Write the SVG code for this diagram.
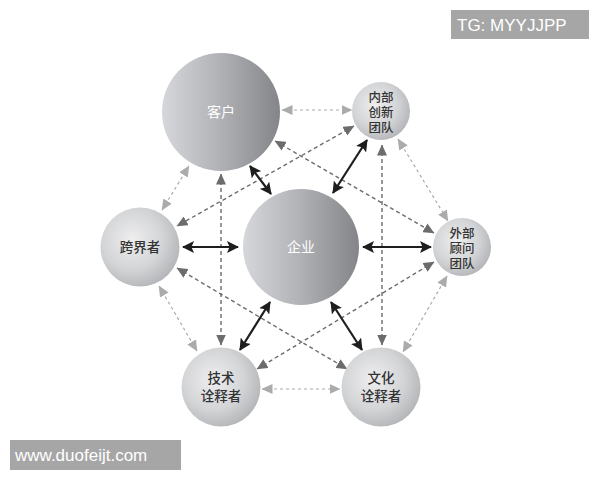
<svg xmlns="http://www.w3.org/2000/svg" width="600" height="480" viewBox="0 0 600 480">
<defs>
<linearGradient id="gBig" x1="0" y1="0" x2="1" y2="0">
<stop offset="0" stop-color="#d6d7da"/>
<stop offset="0.45" stop-color="#b4b5b9"/>
<stop offset="1" stop-color="#838589"/>
</linearGradient>
<radialGradient id="gSmall" cx="0.4" cy="0.4" r="0.65">
<stop offset="0" stop-color="#eeeeef"/>
<stop offset="0.6" stop-color="#d3d4d6"/>
<stop offset="1" stop-color="#b3b4b7"/>
</radialGradient>
<marker id="mB" markerUnits="userSpaceOnUse" markerWidth="12" markerHeight="12" viewBox="0 0 12 12" refX="11" refY="6" orient="auto-start-reverse">
<path d="M0,0 L12,6 L0,12 L2.5,6 Z" fill="#1e1e1e"/>
</marker>
<marker id="mD" markerUnits="userSpaceOnUse" markerWidth="11" markerHeight="10" viewBox="0 0 11 10" refX="10.5" refY="5" orient="auto-start-reverse">
<path d="M0,0 L11,5 L0,10 Z" fill="#6c6c6c"/>
</marker>
<marker id="mL" markerUnits="userSpaceOnUse" markerWidth="11" markerHeight="10" viewBox="0 0 11 10" refX="10.5" refY="5" orient="auto-start-reverse">
<path d="M0,0 L11,5 L0,10 Z" fill="#ababab"/>
</marker>
</defs>
<style>
.big{fill:url(#gBig);}
.small{fill:url(#gSmall);}
.tw{font-family:"Noto Sans CJK SC","Noto Sans",sans-serif;font-size:14px;fill:#ffffff;text-anchor:middle;}
.tk{font-family:"Liberation Sans","Noto Sans CJK SC",sans-serif;font-size:13.5px;fill:#333333;text-anchor:middle;font-weight:500;}
.ts{font-family:"Liberation Sans","Noto Sans CJK SC",sans-serif;font-size:12.5px;fill:#333333;text-anchor:middle;font-weight:500;}
.solid{stroke:#1e1e1e;stroke-width:2.2;fill:none;marker-start:url(#mB);marker-end:url(#mB);}
.dark{stroke:#6c6c6c;stroke-width:1.4;stroke-dasharray:4 3;fill:none;marker-start:url(#mD);marker-end:url(#mD);}
.light{stroke:#ababab;stroke-width:1.2;stroke-dasharray:3 3;fill:none;marker-start:url(#mL);marker-end:url(#mL);}
.wm{fill:#a6a6a6;}
.wmt{font-family:"Liberation Sans",Arial,sans-serif;font-size:17px;fill:#ffffff;}
</style>
<rect width="600" height="480" fill="#ffffff"/>
<g id="connectors">
<line class="light" x1="282" y1="110" x2="352" y2="110"/>
<line class="light" x1="398" y1="139" x2="448" y2="221"/>
<line class="light" x1="447" y1="276" x2="403" y2="352"/>
<line class="light" x1="262" y1="389" x2="340" y2="389"/>
<line class="light" x1="197" y1="351" x2="159" y2="286"/>
<line class="light" x1="162" y1="210" x2="189" y2="166"/>
<line class="dark" x1="275" y1="141" x2="434" y2="233"/>
<line class="dark" x1="354" y1="126" x2="177" y2="226"/>
<line class="dark" x1="177" y1="268" x2="347" y2="369"/>
<line class="dark" x1="434" y1="262" x2="257" y2="369"/>
<line class="dark" x1="221" y1="174" x2="221" y2="345"/>
<line class="dark" x1="382" y1="145" x2="382" y2="345"/>
<line class="solid" x1="183" y1="247" x2="238" y2="247"/>
<line class="solid" x1="363" y1="247" x2="431" y2="247"/>
<line class="solid" x1="250" y1="166" x2="271" y2="194"/>
<line class="solid" x1="333" y1="193" x2="367" y2="140"/>
<line class="solid" x1="240" y1="350" x2="270" y2="302"/>
<line class="solid" x1="331" y1="302" x2="362" y2="350"/>
</g>
<g id="kehu">
<circle class="big" cx="221" cy="112" r="59"/>
<text class="tw" x="221" y="117">客户</text>
</g>
<g id="qiye">
<circle class="big" cx="301" cy="247" r="58"/>
<text class="tw" x="301" y="252">企业</text>
</g>
<g id="neibu">
<circle class="small" cx="381" cy="111" r="29"/>
<text class="ts" x="381" y="102">内部</text>
<text class="ts" x="381" y="117">创新</text>
<text class="ts" x="381" y="132">团队</text>
</g>
<g id="waibu">
<circle class="small" cx="462" cy="247" r="29"/>
<text class="ts" x="462" y="238">外部</text>
<text class="ts" x="462" y="253">顾问</text>
<text class="ts" x="462" y="268">团队</text>
</g>
<g id="kuajie">
<circle class="small" cx="140" cy="247" r="39.5"/>
<text class="tk" x="140" y="252">跨界者</text>
</g>
<g id="jishu">
<circle class="small" cx="221" cy="387" r="39.5"/>
<text class="tk" x="221" y="383">技术</text>
<text class="tk" x="221" y="401">诠释者</text>
</g>
<g id="wenhua">
<circle class="small" cx="381" cy="387" r="39.5"/>
<text class="tk" x="381" y="383">文化</text>
<text class="tk" x="381" y="401">诠释者</text>
</g>
<g id="wm-top">
<rect class="wm" x="451" y="10" width="138" height="29"/>
<text class="wmt" x="457" y="31">TG: MYYJJPP</text>
</g>
<g id="wm-bottom">
<rect class="wm" x="10" y="440" width="171" height="30"/>
<text class="wmt" x="15" y="461">www.duofeijt.com</text>
</g>
</svg>
